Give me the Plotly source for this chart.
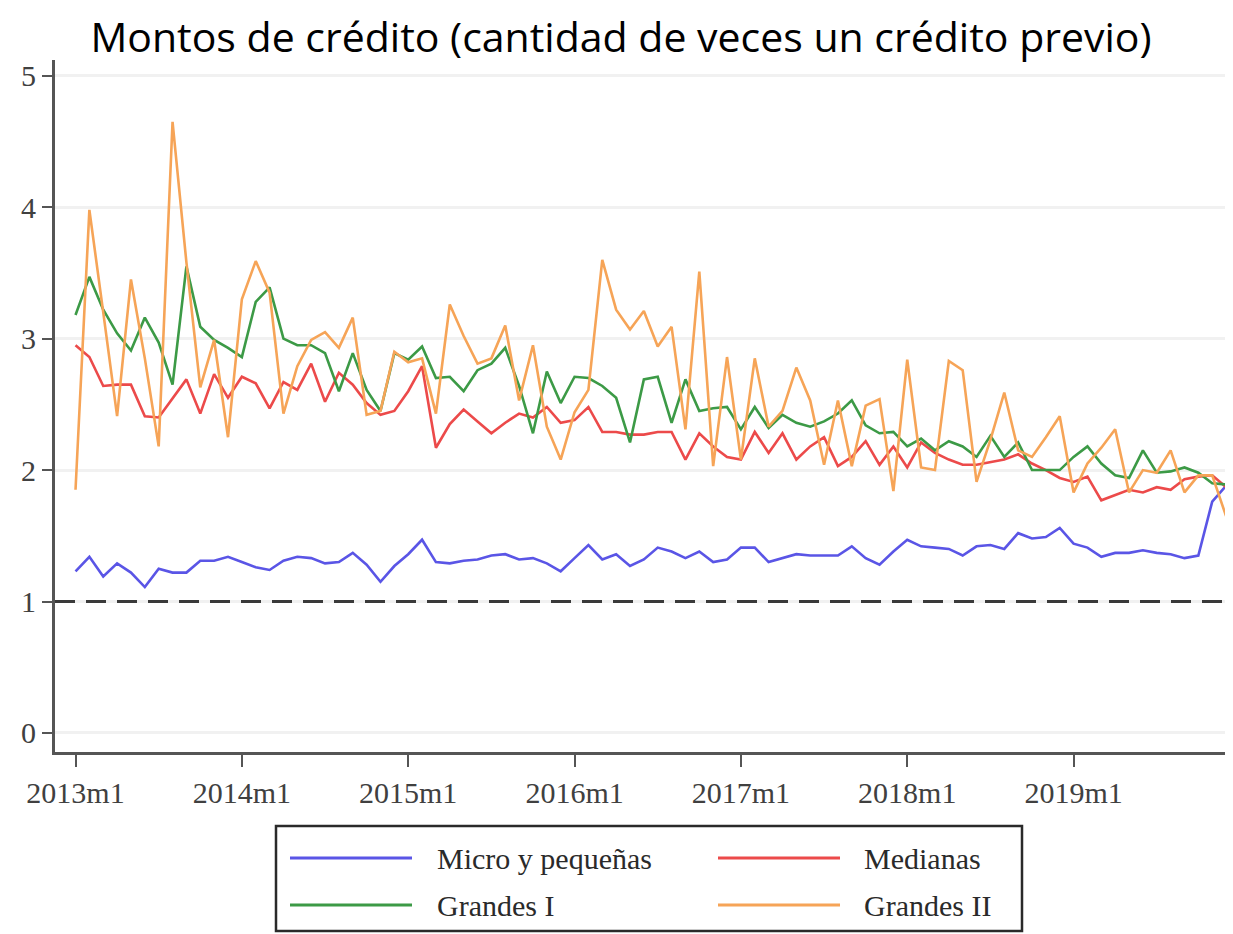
import plotly.graph_objects as go

# ---------------- data ----------------
start_year = 2013
n_months = 84  # 2013m1 .. 2019m12
months = list(range(n_months))
month_labels = [f"{start_year + m // 12}m{m % 12 + 1}" for m in months]

tick_vals = [0, 12, 24, 36, 48, 60, 72]
tick_text = ["2013m1", "2014m1", "2015m1", "2016m1", "2017m1", "2018m1", "2019m1"]

micro = [1.23, 1.34, 1.19, 1.29, 1.22, 1.11, 1.25, 1.22, 1.22, 1.31, 1.31, 1.34,
         1.30, 1.26, 1.24, 1.31, 1.34, 1.33, 1.29, 1.30, 1.37, 1.28, 1.15, 1.27,
         1.36, 1.47, 1.30, 1.29, 1.31, 1.32, 1.35, 1.36, 1.32, 1.33, 1.29, 1.23,
         1.33, 1.43, 1.32, 1.36, 1.27, 1.32, 1.41, 1.38, 1.33, 1.38, 1.30, 1.32,
         1.41, 1.41, 1.30, 1.33, 1.36, 1.35, 1.35, 1.35, 1.42, 1.33, 1.28, 1.38,
         1.47, 1.42, 1.41, 1.40, 1.35, 1.42, 1.43, 1.40, 1.52, 1.48, 1.49, 1.56,
         1.44, 1.41, 1.34, 1.37, 1.37, 1.39, 1.37, 1.36, 1.33, 1.35, 1.76, 1.88]

medianas = [2.95, 2.86, 2.64, 2.65, 2.65, 2.41, 2.40, 2.55, 2.69, 2.43, 2.73, 2.55,
            2.71, 2.66, 2.47, 2.67, 2.61, 2.81, 2.52, 2.74, 2.65, 2.51, 2.42, 2.45,
            2.60, 2.79, 2.17, 2.35, 2.46, 2.37, 2.28, 2.36, 2.43, 2.40, 2.48, 2.36,
            2.38, 2.48, 2.29, 2.29, 2.27, 2.27, 2.29, 2.29, 2.08, 2.28, 2.18, 2.10,
            2.08, 2.29, 2.13, 2.28, 2.08, 2.18, 2.25, 2.03, 2.10, 2.22, 2.04, 2.18,
            2.02, 2.21, 2.13, 2.08, 2.04, 2.04, 2.06, 2.08, 2.12, 2.05, 2.00, 1.94,
            1.91, 1.95, 1.77, 1.81, 1.85, 1.83, 1.87, 1.85, 1.93, 1.95, 1.96, 1.87]

grandes1 = [3.18, 3.47, 3.22, 3.04, 2.91, 3.16, 2.97, 2.65, 3.55, 3.09, 2.99, 2.93,
            2.86, 3.28, 3.39, 3.00, 2.95, 2.95, 2.89, 2.60, 2.89, 2.61, 2.45, 2.89,
            2.84, 2.94, 2.70, 2.71, 2.60, 2.76, 2.81, 2.93, 2.64, 2.28, 2.75, 2.51,
            2.71, 2.70, 2.64, 2.55, 2.21, 2.69, 2.71, 2.36, 2.69, 2.45, 2.47, 2.48,
            2.31, 2.48, 2.32, 2.42, 2.36, 2.33, 2.37, 2.43, 2.53, 2.34, 2.28, 2.29,
            2.18, 2.24, 2.15, 2.22, 2.18, 2.10, 2.26, 2.10, 2.21, 2.00, 2.00, 2.00,
            2.10, 2.18, 2.05, 1.96, 1.94, 2.15, 1.98, 1.99, 2.02, 1.98, 1.90, 1.89]

grandes2 = [1.85, 3.98, 3.20, 2.41, 3.45, 2.85, 2.18, 4.65, 3.58, 2.63, 2.99, 2.25,
            3.30, 3.59, 3.35, 2.43, 2.79, 2.99, 3.05, 2.93, 3.16, 2.42, 2.45, 2.90,
            2.82, 2.85, 2.43, 3.26, 3.02, 2.81, 2.85, 3.10, 2.53, 2.95, 2.33, 2.08,
            2.44, 2.61, 3.60, 3.22, 3.07, 3.21, 2.94, 3.09, 2.31, 3.51, 2.03, 2.86,
            2.08, 2.85, 2.33, 2.45, 2.78, 2.53, 2.04, 2.53, 2.03, 2.49, 2.54, 1.84,
            2.84, 2.02, 2.00, 2.83, 2.76, 1.91, 2.23, 2.59, 2.15, 2.10, 2.25, 2.41,
            1.83, 2.05, 2.17, 2.31, 1.83, 2.00, 1.98, 2.15, 1.83, 1.96, 1.96, 1.65]

series_names = ["Micro y pequeñas", "Medianas", "Grandes I", "Grandes II"]
series_values = [micro, medianas, grandes1, grandes2]
series_colors = ["#5a55e6", "#ec4a4a", "#3c9a46", "#f6a457"]

reference_level = 1
y_ticks = [0, 1, 2, 3, 4, 5]

title_text = "Montos de crédito (cantidad de veces un crédito previo)"

# ---------------- figure geometry ----------------
OFF = 8                      # default page body margin
W, H = 1233 - OFF, 934 - OFF
ML, MR, MT, MB = 55 - OFF, 0, 60 - OFF, H - (752 - OFF)
PW, PH = W - ML - MR, H - MT - MB

def px_x(px):  # page pixel -> paper x
    return (px - OFF - ML) / PW

def px_y(py):  # page pixel -> paper y
    return (H - MB - (py - OFF)) / PH

fig = go.Figure()
for name, vals, col in zip(series_names, series_values, series_colors):
    fig.add_trace(go.Scatter(x=months, y=vals, mode="lines", name=name,
                             line=dict(color=col, width=2.6),
                             showlegend=False, text=month_labels,
                             hovertemplate="%{text}: %{y}<extra>" + name + "</extra>"))

# dashed reference line at 1
fig.add_shape(type="line", xref="paper", yref="y", x0=0, x1=1,
              y0=reference_level, y1=reference_level,
              line=dict(color="#3a3a3a", width=3, dash="20px,11px"), layer="above")

# manual legend (Stata-style)
serif = "Liberation Serif"
fig.add_shape(type="rect", xref="paper", yref="paper",
              x0=px_x(276), x1=px_x(1022), y0=px_y(826), y1=px_y(931),
              line=dict(color="#2a2a2a", width=2.5), fillcolor="white")
cols_line = [(290, 412), (718, 840)]
cols_text = [435, 862]
rows_y = [858, 905]
for k, (name, col) in enumerate(zip(series_names, series_colors)):
    r, c = divmod(k, 2)
    x0, x1 = cols_line[c]
    fig.add_shape(type="line", xref="paper", yref="paper",
                  x0=px_x(x0), x1=px_x(x1), y0=px_y(rows_y[r]), y1=px_y(rows_y[r]),
                  line=dict(color=col, width=2.8))
    fig.add_annotation(xref="paper", yref="paper", x=px_x(cols_text[c]),
                       y=px_y(rows_y[r]), text=name, showarrow=False,
                       xanchor="left", yanchor="middle",
                       font=dict(family=serif, size=30, color="#2a2a2a"))

fig.update_layout(
    width=W, height=H,
    margin=dict(l=ML, r=MR, t=MT, b=MB),
    paper_bgcolor="white", plot_bgcolor="white",
    showlegend=False,
    title=dict(text=title_text, x=(621 - OFF) / W, xref="container", xanchor="center",
               y=1 - (38 - OFF) / H, yref="container", yanchor="middle",
               font=dict(family="Open Sans", size=41, color="black")),
    font=dict(family=serif, color="#404040"),
)
fig.update_xaxes(range=[-1.48, 83.5], tickvals=tick_vals, ticktext=tick_text,
                 showgrid=False, zeroline=False, showline=True,
                 linecolor="#555555", linewidth=3, ticks="outside", ticklen=12,
                 tickwidth=2, tickcolor="#555555",
                 tickfont=dict(family=serif, size=30, color="#404040"))
fig.update_yaxes(range=[-0.145, 5.12], tickvals=y_ticks, showgrid=True,
                 gridcolor="#f1f1f1", gridwidth=2.5, zeroline=False, showline=True,
                 linecolor="#555555", linewidth=3, ticks="outside", ticklen=10,
                 tickwidth=2, tickcolor="#555555",
                 tickfont=dict(family=serif, size=30, color="#404040"))

fig.write_html("out.html")
